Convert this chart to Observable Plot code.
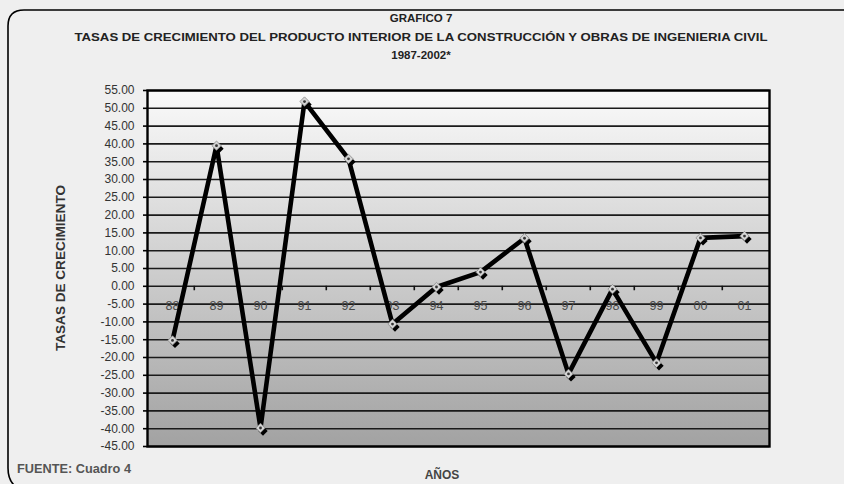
<!DOCTYPE html>
<html>
<head>
<meta charset="utf-8">
<script src="https://cdn.jsdelivr.net/npm/d3@7"></script>
<script src="https://cdn.jsdelivr.net/npm/@observablehq/plot@0.6"></script>
<style>
  html, body { margin: 0; padding: 0; background: #efefef; }
  #chart svg { display: block; }
</style>
</head>
<body>
<div id="chart"></div>
<script>
const years = ["88","89","90","91","92","93","94","95","96","97","98","99","00","01"];
const growth = [-15.2, 39.5, -39.8, 51.9, 35.8, -10.6, -0.2, 4.0, 13.5, -24.6, -0.8, -21.5, 13.6, 14.1];
const yTicks = [-45, -40, -35, -30, -25, -20, -15, -10, -5, 0, 5, 10, 15, 20, 25, 30, 35, 40, 45, 50, 55];

const titleLines = ["GRAFICO 7", "TASAS DE CRECIMIENTO DEL PRODUCTO INTERIOR DE LA CONSTRUCCIÓN Y OBRAS DE INGENIERIA CIVIL", "1987-2002*"];
const yTitle = "TASAS DE CRECIMIENTO";
const xTitle = "AÑOS";
const source = "FUENTE: Cuadro 4";

const data = years.map((y, i) => ({year: y, value: growth[i]}));

const W = 844, H = 484;
const mL = 147, mR = 75, mT = 90, mB = 38;
const step = (W - mL - mR) / years.length;

const defs = () => {
  const d = d3.create("svg:defs");
  const g = d.append("linearGradient").attr("id", "bg").attr("x1", 0).attr("y1", 0).attr("x2", 0).attr("y2", 1);
  g.append("stop").attr("offset", "0%").attr("stop-color", "#fafafa");
  g.append("stop").attr("offset", "100%").attr("stop-color", "#a2a2a2");
  return d.node();
};

const chart = Plot.plot({
  width: W, height: H,
  marginLeft: mL, marginRight: mR, marginTop: mT, marginBottom: mB,
  style: {background: "transparent", fontFamily: "'Liberation Sans', Arial, sans-serif", fontSize: "12px"},
  x: {type: "point", domain: years, padding: 0.5, axis: null},
  y: {domain: [-45, 55], axis: null},
  marks: [
    defs,
    Plot.frame({fill: "url(#bg)"}),
    Plot.ruleY(yTicks, {stroke: "#1a1a1a", strokeWidth: 1.6}),
    Plot.ruleX(years.slice(1), {x: d => d, y1: 0, y2: -1.25, dx: -step / 2, stroke: "#111", strokeWidth: 1.6}),
    Plot.text(years, {x: d => d, y: 0, dy: 20, text: d => d, fill: "#4a4a4a", fontSize: 12.5}),
    Plot.axisY({ticks: yTicks, tickFormat: d => d.toFixed(2), tickSize: 4, tickPadding: 9, label: null, fill: "#333", stroke: "#000", strokeWidth: 1.6, fontSize: 12}),
    Plot.frame({stroke: "#000", strokeWidth: 2.4}),
    Plot.dot(data, {x: "year", y: "value", symbol: "diamond2", r: 4.2, fill: "#000", dx: 2.5, dy: 3}),
    Plot.line(data, {x: "year", y: "value", stroke: "#000", strokeWidth: 4.6, strokeLinejoin: "miter"}),
    Plot.dot(data, {x: "year", y: "value", symbol: "diamond2", r: 4.2, fill: "#d4d4d4", stroke: "#8a8a8a", strokeWidth: 0.8}),
    Plot.dot(data, {x: "year", y: "value", r: 1.4, fill: "#333"})
  ]
});

const svg = d3.select(chart);
// outer rounded frame
svg.insert("path", ":first-child")
  .attr("d", "M 846 10 H 24 Q 8 10 8 26 V 468 Q 8 480 15 486")
  .attr("fill", "none").attr("stroke", "#000").attr("stroke-width", 1.6);

const font = "'Liberation Sans', Arial, sans-serif";
const titleY = [22, 41, 59];
titleLines.forEach((t, i) => {
  const el = svg.append("text")
    .attr("x", 421).attr("y", titleY[i])
    .attr("text-anchor", "middle")
    .attr("font-family", font).attr("font-weight", "bold").attr("font-size", 11.5)
    .attr("fill", "#222").text(t);
  if (i === 1) el.attr("textLength", 693).attr("lengthAdjust", "spacingAndGlyphs");
});

svg.append("text")
  .attr("transform", "translate(65,268) rotate(-90)")
  .attr("text-anchor", "middle")
  .attr("font-family", font).attr("font-weight", "bold").attr("font-size", 12)
  .attr("textLength", 166).attr("lengthAdjust", "spacingAndGlyphs")
  .attr("fill", "#333").text(yTitle);

svg.append("text")
  .attr("x", 442).attr("y", 479)
  .attr("text-anchor", "middle")
  .attr("font-family", font).attr("font-weight", "bold").attr("font-size", 12)
  .attr("fill", "#444").text(xTitle);

svg.append("text")
  .attr("x", 17).attr("y", 473)
  .attr("text-anchor", "start")
  .attr("font-family", font).attr("font-weight", "bold").attr("font-size", 12)
  .attr("textLength", 114).attr("lengthAdjust", "spacingAndGlyphs")
  .attr("fill", "#555").text(source);

document.getElementById("chart").appendChild(chart);
</script>
</body>
</html>
